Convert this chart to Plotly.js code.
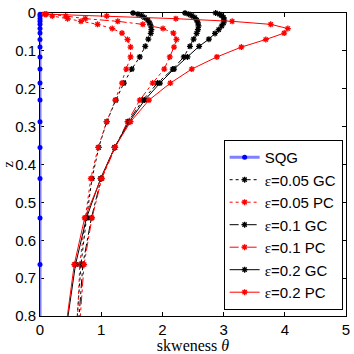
<!DOCTYPE html>
<html>
<head>
<meta charset="utf-8">
<script src="https://cdn.plot.ly/plotly-3.0.1.min.js"></script>
<style>
  html, body { margin: 0; padding: 0; background: #ffffff; }
  #chart { width: 354px; height: 354px; }
</style>
</head>
<body>
<div id="chart"></div>
<script>
// depth levels (z)
const zPC = [0.003, 0.008, 0.015, 0.022, 0.030, 0.041, 0.053, 0.070, 0.090, 0.116, 0.148, 0.185, 0.230, 0.287, 0.355, 0.437, 0.541, 0.664, 0.82];
const zGC = [0, 0.003, 0.007, 0.012, 0.019, 0.026, 0.034, 0.044, 0.054, 0.069, 0.088, 0.116, 0.148, 0.185, 0.230, 0.287, 0.355, 0.437, 0.541, 0.664, 0.82];

// skewness values
const sqg    = [0, 0, 0, 0, 0, 0, 0, 0, 0, 0, 0, 0, 0, 0, 0, 0, 0, 0, 0];
const gc005  = [1.52, 1.60, 1.66, 1.71, 1.76, 1.79, 1.81, 1.82, 1.81, 1.77, 1.72, 1.63, 1.50, 1.37, 1.24, 1.09, 0.96, 0.85, 0.76, 0.67, 0.60];
const pc005  = [0.07, 0.20, 0.45, 0.67, 0.94, 1.18, 1.34, 1.43, 1.48, 1.48, 1.41, 1.34, 1.23, 1.09, 0.95, 0.83, 0.74, 0.65, 0.61];
const gc01   = [2.37, 2.43, 2.48, 2.53, 2.56, 2.58, 2.59, 2.58, 2.56, 2.51, 2.45, 2.35, 2.17, 1.92, 1.68, 1.44, 1.22, 1.00, 0.84, 0.70, 0.63];
const pc01   = [0.10, 0.42, 0.74, 1.27, 1.68, 2.01, 2.18, 2.23, 2.19, 2.12, 2.03, 1.84, 1.63, 1.43, 1.23, 1.01, 0.85, 0.72, 0.65];
const gc02   = [2.87, 2.93, 2.97, 3.00, 3.01, 3.00, 2.97, 2.92, 2.86, 2.76, 2.60, 2.41, 2.19, 1.96, 1.71, 1.46, 1.22, 0.99, 0.76, 0.58, 0.44];
const pc02   = [0.10, 1.09, 2.22, 3.14, 3.77, 4.05, 3.99, 3.69, 3.29, 2.89, 2.48, 2.13, 1.78, 1.48, 1.22, 1.00, 0.73, 0.56, 0.43];

const EPS = '<span style="font-family:\'Liberation Serif\'">ε</span>';

function starTrace(x, y, name, color, dash) {
  return {
    x: x, y: y, name: name,
    type: 'scatter', mode: 'lines+markers',
    line: { color: color, width: 1, dash: dash },
    marker: { symbol: 'asterisk-open', size: 5, color: color, line: { color: color, width: 1.3 } },
    cliponaxis: false
  };
}

const traces = [
  {
    x: sqg, y: zPC, name: 'SQG',
    type: 'scatter', mode: 'lines+markers',
    line: { color: '#7f7fff', width: 3 },
    marker: { symbol: 'circle', size: 5, color: '#0000ff' },
    cliponaxis: false
  },
  starTrace(gc005, zGC, EPS + '=0.05 GC', '#000000', 'dot'),
  starTrace(pc005, zPC, EPS + '=0.05 PC', '#ff0000', 'dot'),
  starTrace(gc01, zGC, EPS + '=0.1 GC', '#000000', 'dashdot'),
  starTrace(pc01, zPC, EPS + '=0.1 PC', '#ff0000', 'dashdot'),
  starTrace(gc02, zGC, EPS + '=0.2 GC', '#000000', 'solid'),
  starTrace(pc02, zPC, EPS + '=0.2 PC', '#ff0000', 'solid')
];

const axisCommon = {
  showline: true, linecolor: '#000000', linewidth: 1,
  mirror: 'ticks', ticks: 'inside', ticklen: 4, tickcolor: '#000000',
  showgrid: false, zeroline: false, layer: 'below traces',
  tickfont: { family: 'Liberation Sans, Arial, sans-serif', size: 15, color: '#000000' }
};

const layout = {
  width: 354, height: 354,
  margin: { l: 40, r: 8, t: 13, b: 38 },
  paper_bgcolor: '#ffffff', plot_bgcolor: '#ffffff',
  showlegend: true,
  legend: {
    x: 0.989, xanchor: 'right', y: 0.02, yanchor: 'bottom',
    bgcolor: '#ffffff', bordercolor: '#000000', borderwidth: 1,
    font: { family: 'Liberation Sans, Arial, sans-serif', size: 15, color: '#000000' }
  },
  xaxis: Object.assign({}, axisCommon, {
    range: [0, 5], tick0: 0, dtick: 1,
    title: { text: 'skweness <i>θ</i>', standoff: 5, font: { family: 'Liberation Serif, serif', size: 16, color: '#000000' } }
  }),
  yaxis: Object.assign({}, axisCommon, {
    range: [0.8, 0], tick0: 0, dtick: 0.1,
    title: { text: 'z', standoff: 4, font: { family: 'Liberation Serif, serif', size: 15, color: '#000000' } }
  })
};

Plotly.newPlot('chart', traces, layout, { displayModeBar: false, responsive: false });
</script>
</body>
</html>
